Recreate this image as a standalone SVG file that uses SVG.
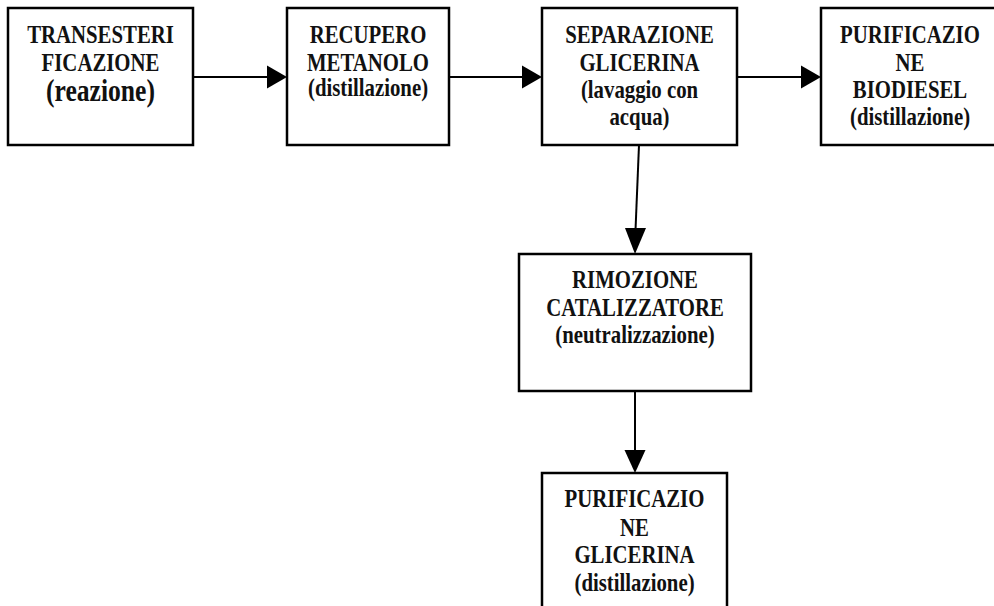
<svg xmlns="http://www.w3.org/2000/svg" width="994" height="606" viewBox="0 0 994 606">
<style>
.box{fill:#fff;stroke:#000;stroke-width:2.5}
.t{font-family:'Liberation Serif','Times New Roman',serif;font-weight:700;font-size:26px;fill:#111;text-anchor:middle}
.big{font-size:32px}
.ln{stroke:#000;stroke-width:2;fill:none}
.ah{fill:#000}
</style>
<rect width="994" height="606" fill="#fff"/>
<g id="connectors">
<line class="ln" x1="193" y1="77" x2="270" y2="77"/>
<polygon class="ah" points="267,65.5 287,77 267,88.5"/>
<line class="ln" x1="449" y1="77" x2="525" y2="77"/>
<polygon class="ah" points="522,65.5 542,77 522,88.5"/>
<line class="ln" x1="737" y1="77" x2="803" y2="77"/>
<polygon class="ah" points="801,65.5 821,77 801,88.5"/>
<line class="ln" x1="639" y1="145" x2="635.5" y2="230"/>
<polygon class="ah" points="625,228 646,228 635,254"/>
<line class="ln" x1="635" y1="391" x2="635" y2="450"/>
<polygon class="ah" points="624.5,450 645.5,450 635,473"/>
</g>
<g id="n1">
<rect class="box" x="8" y="8" width="185" height="137"/>
<g transform="translate(100.5,0) scale(0.8,1)">
<text class="t" x="0" y="43">TRANSESTERI</text>
<text class="t" x="0" y="71">FICAZIONE</text>
<text class="t big" x="0" y="101">(reazione)</text>
</g>
</g>
<g id="n2">
<rect class="box" x="287" y="8" width="162" height="137"/>
<g transform="translate(368,0) scale(0.8,1)">
<text class="t" x="0" y="43">RECUPERO</text>
<text class="t" x="0" y="71">METANOLO</text>
<text class="t" x="0" y="96">(distillazione)</text>
</g>
</g>
<g id="n3">
<rect class="box" x="542" y="8" width="195" height="137"/>
<g transform="translate(639.5,0) scale(0.8,1)">
<text class="t" x="0" y="43">SEPARAZIONE</text>
<text class="t" x="0" y="71">GLICERINA</text>
<text class="t" x="0" y="98">(lavaggio con</text>
<text class="t" x="0" y="125">acqua)</text>
</g>
</g>
<g id="n4">
<rect class="box" x="821" y="8" width="180" height="137"/>
<g transform="translate(910,0) scale(0.8,1)">
<text class="t" x="0" y="43">PURIFICAZIO</text>
<text class="t" x="0" y="71">NE</text>
<text class="t" x="0" y="98">BIODIESEL</text>
<text class="t" x="0" y="125">(distillazione)</text>
</g>
</g>
<g id="n5">
<rect class="box" x="519" y="254" width="232" height="137"/>
<g transform="translate(635,0) scale(0.8,1)">
<text class="t" x="0" y="288">RIMOZIONE</text>
<text class="t" x="0" y="316">CATALIZZATORE</text>
<text class="t" x="0" y="343">(neutralizzazione)</text>
</g>
</g>
<g id="n6">
<rect class="box" x="542" y="473" width="185" height="150"/>
<g transform="translate(634.5,0) scale(0.8,1)">
<text class="t" x="0" y="507">PURIFICAZIO</text>
<text class="t" x="0" y="536">NE</text>
<text class="t" x="0" y="563">GLICERINA</text>
<text class="t" x="0" y="591">(distillazione)</text>
</g>
</g>
</svg>
